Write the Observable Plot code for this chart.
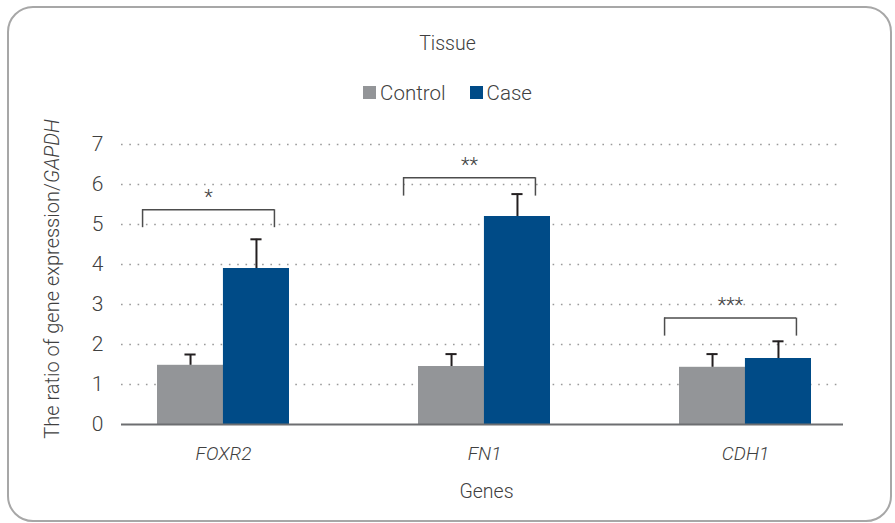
<!DOCTYPE html>
<html>
<head>
<meta charset="utf-8">
<script src="https://cdn.jsdelivr.net/npm/d3@7"></script>
<script src="https://cdn.jsdelivr.net/npm/@observablehq/plot@0.6"></script>
<style>
  html, body { margin: 0; padding: 0; background: #fff; }
  #wrap { position: relative; width: 895px; height: 523px; overflow: hidden; font-family: Roboto, "Liberation Sans", sans-serif; font-weight: 300; color: #404040; }
  #frame { position: absolute; left: 7px; top: 6px; width: 885px; height: 516px; border: 2px solid #a7a7a7; border-radius: 26px; box-sizing: border-box; }
  #title { position: absolute; left: 0; width: 895px; top: 32px; text-align: center; font-size: 19.5px; }
  #legend { position: absolute; left: 0; width: 895px; top: 80px; text-align: center; font-size: 20.5px; }
  #legend span.item { display: inline-flex; align-items: center; margin: 0 12px; }
  #legend span.sw { display: inline-block; width: 13px; height: 13px; margin-right: 4px; }
  #ylabel { position: absolute; left: 52px; top: 279px; transform: translate(-50%, -50%) rotate(-90deg); white-space: nowrap; font-size: 20px; }
  #xlabel { position: absolute; left: 0; width: 895px; padding-left: 78px; box-sizing: border-box; top: 480px; text-align: center; font-size: 19.5px; }
  #chart { position: absolute; left: 0; top: 0; }
</style>
</head>
<body>
<div id="wrap">
  <div id="frame"></div>
  <div id="chart"></div>
  <div id="title">Tissue</div>
  <div id="legend"></div>
  <div id="ylabel">The ratio of gene expression/<i>GAPDH</i></div>
  <div id="xlabel">Genes</div>
</div>
<script>
// ---- data ----
const genes = ["FOXR2", "FN1", "CDH1"];
const groups = ["Control", "Case"];
const controlValues = [1.48, 1.45, 1.43];
const controlErrors = [0.27, 0.31, 0.33];
const caseValues = [3.90, 5.20, 1.65];
const caseErrors = [0.73, 0.56, 0.43];
const yTicks = [0, 1, 2, 3, 4, 5, 6, 7];
const sigLabels = ["*", "**", "***"];
const bracketTop = [5.37, 6.17, 2.66];
const bracketBottom = [4.92, 5.71, 2.21];
const starY = [5.68, 6.48, 2.97];
const colors = {Control: "#939598", Case: "#004b87"};

// ---- build tables ----
const rows = [];
genes.forEach((g, i) => {
  rows.push({gene: g, group: "Control", value: controlValues[i], err: controlErrors[i]});
  rows.push({gene: g, group: "Case", value: caseValues[i], err: caseErrors[i]});
});
const brackets = genes.map((g, i) => ({gene: g, top: bracketTop[i], bottom: bracketBottom[i], y: starY[i], label: sigLabels[i]}));

// legend
const leg = document.getElementById("legend");
groups.forEach(k => {
  const s = document.createElement("span");
  s.className = "item";
  s.innerHTML = `<span class="sw" style="background:${colors[k]}"></span>${k}`;
  leg.appendChild(s);
});

// ---- layout ----
const W = 895, H = 523;
const mL = 121, mR = 52, mT = 144, mB = 99;
const pIn = 0.495, pOut = 0.13, align = 0.53;
const band = d3.scaleBand().domain(genes).range([mL, W - mR]).paddingInner(pIn).paddingOuter(pOut).align(align);
const bw = band.bandwidth();
const sub = bw / 2;
const capHalf = 5.5;
const bracketShift = -15;

const ctrl = rows.filter(d => d.group === "Control");
const cas = rows.filter(d => d.group === "Case");
const font = "Roboto, 'Liberation Sans', sans-serif";

const plot = Plot.plot({
  width: W, height: H,
  marginLeft: mL, marginRight: mR, marginTop: mT, marginBottom: mB,
  style: {fontFamily: font, background: "transparent", overflow: "visible"},
  x: {domain: genes, paddingInner: pIn, paddingOuter: pOut, align: align, axis: null},
  y: {domain: [0, 7], axis: null},
  marks: [
    Plot.ruleY(yTicks.filter(t => t > 0), {stroke: "#9a9a9a", strokeWidth: 1.6, strokeDasharray: "1.6,6.7"}),
    Plot.barY(ctrl, {x: "gene", y: "value", fill: colors.Control, insetRight: sub}),
    Plot.barY(cas, {x: "gene", y: "value", fill: colors.Case, insetLeft: sub}),
    Plot.ruleY([0], {stroke: "#6d6e71", strokeWidth: 2}),
    // error bars
    Plot.ruleX(ctrl, {x: "gene", y1: "value", y2: d => d.value + d.err, dx: -sub / 2, stroke: "#231f20", strokeWidth: 2}),
    Plot.ruleX(cas, {x: "gene", y1: "value", y2: d => d.value + d.err, dx: sub / 2, stroke: "#231f20", strokeWidth: 2}),
    Plot.tickY(ctrl, {x: "gene", y: d => d.value + d.err, dx: -sub / 2, insetLeft: bw / 2 - capHalf, insetRight: bw / 2 - capHalf, stroke: "#231f20", strokeWidth: 2}),
    Plot.tickY(cas, {x: "gene", y: d => d.value + d.err, dx: sub / 2, insetLeft: bw / 2 - capHalf, insetRight: bw / 2 - capHalf, stroke: "#231f20", strokeWidth: 2}),
    // significance brackets
    Plot.tickY(brackets, {x: "gene", y: "top", dx: bracketShift, stroke: "#4d4d4d", strokeWidth: 1.5}),
    Plot.ruleX(brackets, {x: "gene", y1: "bottom", y2: "top", dx: bracketShift - bw / 2, stroke: "#4d4d4d", strokeWidth: 1.5}),
    Plot.ruleX(brackets, {x: "gene", y1: "bottom", y2: "top", dx: bracketShift + bw / 2, stroke: "#4d4d4d", strokeWidth: 1.5}),
    Plot.text(brackets, {x: "gene", y: "y", text: "label", dx: bracketShift, fontSize: 20, fill: "#404040"}),
    // y tick labels
    Plot.text(yTicks, {y: d => d, text: d => String(d), frameAnchor: "left", textAnchor: "end", dx: -18, fontSize: 21, fill: "#404040", fontWeight: 300}),
    // x tick labels
    Plot.text(genes, {x: d => d, y: 0, text: d => d, dy: 29, fontSize: 19, fontStyle: "italic", fill: "#404040", fontWeight: 300})
  ]
});
document.getElementById("chart").appendChild(plot);
</script>
</body>
</html>
